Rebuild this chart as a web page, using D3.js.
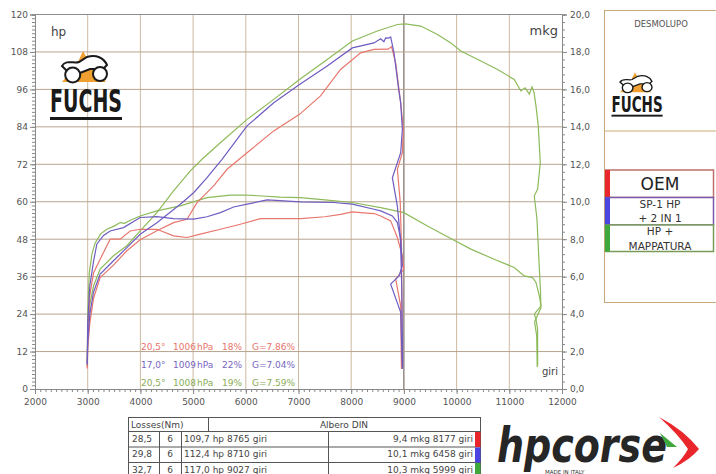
<!DOCTYPE html>
<html>
<head>
<meta charset="utf-8">
<script src="https://cdn.jsdelivr.net/npm/d3@7"></script>
<style>
  body { margin: 0; background: #fff; }
  svg { display: block; font-family: "DejaVu Sans", Verdana, sans-serif; }
</style>
</head>
<body>
<svg id="chart" width="716" height="474"></svg>
<script>
// dyno chart, values
var rpmTicks = [2000, 3000, 4000, 5000, 6000, 7000, 8000, 9000, 10000, 11000, 12000];
var hpTicks = [0, 12, 24, 36, 48, 60, 72, 84, 96, 108, 120];
var mkgTicks = [0, 2, 4, 6, 8, 10, 12, 14, 16, 18, 20];

var seriesNames = [["OEM"], ["SP-1 HP", "+ 2 IN 1"], ["HP +", "MAPPATURA"]];
var lineColors = ["#e8776d", "#6e5cc2", "#8dba5a"];
var swatchColors = ["#e8262c", "#4a44e0", "#3fa83c"];
var rowBorders = ["#c0706a", "#7a5aa8", "#7a9a5a"];

// [rpm, hp]
var oemPower = [[2992, 7], [3000, 13], [3040, 21], [3110, 29], [3236, 35.7], [3489, 39.7], [3743, 44.3],
  [3996, 47.8], [4313, 50.7], [4629, 53.3], [4884, 54.4], [5074, 59.7], [5390, 65.1], [5644, 70.4],
  [6024, 75.7], [6530, 82.7], [7019, 88], [7418, 93.9], [7798, 102.4], [8179, 107.7], [8432, 108.8],
  [8700, 108.9], [8765, 109.7], [8844, 104.5], [8939, 91.7], [8989, 83.2], [8971, 75.7], [8876, 70.4],
  [8930, 60], [8955, 45], [8962, 25], [8958, 7]];
var sp1Power = [[2992, 8], [3000, 15], [3040, 24], [3110, 31], [3236, 36.8], [3489, 41.1], [3743, 45.3],
  [3996, 49.6], [4313, 53.3], [4757, 59.2], [5010, 62.9], [5264, 67.7], [5549, 73.6], [6024, 84.3],
  [6530, 91.7], [7019, 97.6], [7545, 103.5], [8021, 109.3], [8432, 110.9], [8560, 112.2], [8620, 111.3],
  [8654, 112.5], [8710, 112.4], [8749, 112.8], [8812, 107.7], [8900, 96], [8939, 91.7], [8971, 83.2],
  [8939, 75.7], [8781, 67.7], [8876, 58.6], [8935, 48], [8960, 32], [8972, 15], [8975, 7]];
var hpPower = [[2992, 9], [3000, 17], [3040, 27], [3110, 33], [3236, 38.4], [3489, 42.7], [3743, 45.9],
  [3996, 50.7], [4313, 56.5], [4629, 63.5], [4947, 69.9], [5169, 73.6], [5517, 78.9], [6024, 86.4],
  [6530, 92.8], [7019, 99.2], [7545, 105.6], [8021, 111.5], [8496, 114.7], [8876, 116.8], [9027, 117.0],
  [9319, 116.3], [9637, 113.6], [9890, 110.9], [10080, 108.3], [10460, 105.1], [10777, 102.4],
  [11093, 99.2], [11220, 95.5], [11300, 96.5], [11380, 94.5], [11430, 96.8], [11470, 95], [11506, 90.7],
  [11550, 84.3], [11588, 72.5], [11537, 64], [11474, 61.9], [11525, 54.4], [11560, 42], [11590, 32],
  [11600, 26], [11480, 21.5], [11520, 17], [11530, 7]];

// [rpm, mkg]
var oemTorque = [[2992, 1.1], [3000, 3], [3040, 5], [3110, 6.2], [3236, 6.93], [3426, 8.0], [3616, 8.0],
  [3806, 8.44], [3996, 8.53], [4313, 8.53], [4629, 8.18], [4884, 8.09], [5137, 8.27], [5517, 8.53],
  [5897, 8.8], [6278, 9.1], [6658, 9.1], [7037, 9.1], [7500, 9.2], [7798, 9.33], [8021, 9.46],
  [8177, 9.42], [8432, 9.37], [8559, 9.24], [8749, 8.98], [8876, 8.09], [8971, 7.11], [9000, 6.4],
  [8844, 5.87], [8939, 4.44], [8953, 1.07]];
var sp1Torque = [[2992, 1.3], [3000, 3.5], [3040, 5.5], [3110, 6.8], [3173, 7.73], [3300, 8.2],
  [3426, 8.44], [3679, 8.62], [3996, 9.16], [4313, 9.21], [4629, 9.10], [5010, 9.07], [5264, 9.2],
  [5517, 9.42], [5770, 9.72], [6024, 9.87], [6405, 10.1], [7037, 9.99], [7671, 9.96], [8021, 9.87],
  [8432, 9.6], [8559, 9.51], [8781, 9.24], [8876, 8.89], [8939, 8.0], [8971, 6.58], [8907, 6.04],
  [8749, 5.6], [8939, 4.09], [8971, 1.07]];
var hpTorque = [[2992, 1.2], [3000, 4], [3030, 6.2], [3080, 7.2], [3141, 7.8], [3250, 8.3], [3363, 8.53],
  [3500, 8.7], [3616, 8.89], [3700, 8.85], [3800, 9.0], [3996, 9.24], [4313, 9.51], [4757, 9.78],
  [5264, 10.22], [5707, 10.35], [6000, 10.36], [6658, 10.25], [7037, 10.22], [7500, 10.1],
  [8021, 9.96], [8559, 9.69], [9000, 9.42], [9446, 8.71], [9890, 8.04], [10270, 7.47], [10713, 6.93],
  [11093, 6.49], [11283, 6.04], [11442, 5.95], [11506, 5.69], [11569, 4.98], [11601, 4.44],
  [11474, 4.0], [11506, 3.73], [11537, 3.2], [11537, 1.24]];

var weather = [["20,5°", "1006", "hPa", "18%", "G=7.86%"],
               ["17,0°", "1009", "hPa", "22%", "G=7.04%"],
               ["20,5°", "1008", "hPa", "19%", "G=7.59%"]];

var lossesNm = ["28,5", "29,8", "32,7"];
var lossesCol2 = ["6", "6", "6"];
var peakPower = ["109,7 hp 8765 giri", "112,4 hp 8710 giri", "117,0 hp 9027 giri"];
var peakTorque = ["9,4 mkg 8177 giri", "10,1 mkg 6458 giri", "10,3 mkg 5999 giri"];

var svg = d3.select("#chart");

var x = d3.scaleLinear().domain([2000, 12000]).range([35, 562]);
var yHp = d3.scaleLinear().domain([0, 120]).range([389, 14.5]);
var yMkg = d3.scaleLinear().domain([0, 20]).range([389, 14.5]);

// grid
var grid = svg.append("g");
grid.selectAll(".vg").data(rpmTicks.slice(1, -1)).enter().append("line")
  .attr("x1", function (d) { return x(d); })
  .attr("x2", function (d) { return x(d); })
  .attr("y1", yHp(120)).attr("y2", yHp(0))
  .attr("stroke", function (d) { return d == 9000 ? "#5e5048" : "#cdb9a0"; })
  .attr("stroke-width", 1);
grid.selectAll(".hg").data(hpTicks.slice(1, -1)).enter().append("line")
  .attr("x1", x(2000)).attr("x2", x(12000))
  .attr("y1", function (d) { return yHp(d); })
  .attr("y2", function (d) { return yHp(d); })
  .attr("stroke", "#b8a48e")
  .attr("stroke-width", 1);
grid.append("line")
  .attr("x1", x(2000)).attr("x2", x(12000))
  .attr("y1", yHp(120)).attr("y2", yHp(120))
  .attr("stroke", "#8c8c8c");

function styleAxis(g) {
  g.attr("font-family", "DejaVu Sans, Verdana, sans-serif").attr("font-size", 9);
  g.selectAll("text").attr("fill", "#555");
  g.selectAll("line").attr("stroke", "#888");
  g.select(".domain").attr("stroke", "#888");
}

// axes, major + minor ticks
var leftMinor = svg.append("g").attr("transform", "translate(" + x(2000) + ",0)")
  .call(d3.axisLeft(yHp).tickValues(d3.range(0, 120.1, 1.2)).tickSize(3).tickFormat(""));
styleAxis(leftMinor);
var leftAxis = svg.append("g").attr("transform", "translate(" + x(2000) + ",0)")
  .call(d3.axisLeft(yHp).tickValues(hpTicks).tickSize(5).tickPadding(2));
styleAxis(leftAxis);

var rightMinor = svg.append("g").attr("transform", "translate(" + x(12000) + ",0)")
  .call(d3.axisRight(yMkg).tickValues(d3.range(0, 20.01, 0.4)).tickSize(3).tickFormat(""));
styleAxis(rightMinor);
var rightAxis = svg.append("g").attr("transform", "translate(" + x(12000) + ",0)")
  .call(d3.axisRight(yMkg).tickValues(mkgTicks).tickSize(5).tickPadding(3)
    .tickFormat(function (d) { return d3.format(".1f")(d).replace(".", ","); }));
styleAxis(rightAxis);

var bottomMinor = svg.append("g").attr("transform", "translate(0," + yHp(0) + ")")
  .call(d3.axisBottom(x).tickValues(d3.range(2000, 12001, 100)).tickSize(3).tickFormat(""));
styleAxis(bottomMinor);
var bottomAxis = svg.append("g").attr("transform", "translate(0," + yHp(0) + ")")
  .call(d3.axisBottom(x).tickValues(rpmTicks).tickSize(5).tickPadding(5).tickFormat(d3.format("d")));
styleAxis(bottomAxis);

svg.append("text").attr("x", 51).attr("y", 36).attr("font-size", 12).attr("fill", "#444").text("hp");
svg.append("text").attr("x", 558).attr("y", 35).attr("text-anchor", "end").attr("font-size", 13)
  .attr("fill", "#444").text("mkg");
svg.append("text").attr("x", 558).attr("y", 375).attr("text-anchor", "end").attr("font-size", 10)
  .attr("fill", "#444").text("giri");

// curves
var powerLine = d3.line()
  .x(function (d) { return x(d[0]); })
  .y(function (d) { return yHp(d[1]); });
var torqueLine = d3.line()
  .x(function (d) { return x(d[0]); })
  .y(function (d) { return yMkg(d[1]); });

var powers = [oemPower, sp1Power, hpPower];
var torques = [oemTorque, sp1Torque, hpTorque];
var curves = svg.append("g").attr("fill", "none").attr("stroke-width", 1.2);
[2, 0, 1].forEach(function (i) {
  curves.append("path").attr("d", torqueLine(torques[i])).attr("stroke", lineColors[i]);
  curves.append("path").attr("d", powerLine(powers[i])).attr("stroke", lineColors[i]);
});

// weather notes
var noteX = [141, 173, 197, 222, 252];
var noteColors = ["#e8746a", "#7766c0", "#8aac55"];
weather.forEach(function (row, i) {
  svg.selectAll(".note" + i).data(row).enter().append("text")
    .attr("x", function (d, j) { return noteX[j]; })
    .attr("y", 350 + i * 18)
    .attr("font-size", 9)
    .attr("fill", noteColors[i])
    .text(function (d) { return d; });
});

// FUCHS logo
function fuchs(tx, ty, sx, sy) {
  var g = svg.append("g").attr("transform", "translate(" + tx + "," + ty + ") scale(" + sx + "," + sy + ")");
  g.append("path").attr("d", "M12,-30 L28,-50 L33,-61 L39,-50 L56,-30 Z").attr("fill", "#f0a030");
  g.append("path")
    .attr("d", "M12,-46 C16,-53 24,-48 29,-50 L37,-55 C46,-58 54,-54 57,-47 L53,-43 L40,-43 L30,-39 L18,-40 Z")
    .attr("fill", "#fff").attr("stroke", "#1a1a1a").attr("stroke-width", 2);
  g.append("circle").attr("cx", 22.7).attr("cy", -37).attr("r", 7.5)
    .attr("fill", "#fff").attr("stroke", "#1a1a1a").attr("stroke-width", 2);
  g.append("circle").attr("cx", 50).attr("cy", -38).attr("r", 7)
    .attr("fill", "#fff").attr("stroke", "#1a1a1a").attr("stroke-width", 2);
  g.append("text").attr("x", 0).attr("y", 0).attr("font-size", 32).attr("font-weight", "bold")
    .attr("textLength", 72).attr("lengthAdjust", "spacingAndGlyphs").attr("fill", "#1a1a1a").text("FUCHS");
  g.append("rect").attr("x", 0).attr("y", 5).attr("width", 72).attr("height", 3).attr("fill", "#1a1a1a");
}
fuchs(50, 112, 1, 1);
fuchs(611.5, 111.5, 0.71, 0.64);

// right panel
svg.append("rect").attr("x", 604.5).attr("y", 10.5).attr("width", 130).attr("height", 292)
  .attr("fill", "none").attr("stroke", "#c8aa7a");
svg.append("line").attr("x1", 604.5).attr("x2", 716).attr("y1", 131).attr("y2", 131).attr("stroke", "#c8aa7a");
svg.append("text").attr("x", 661).attr("y", 26.5).attr("text-anchor", "middle").attr("font-size", 8.5)
  .attr("fill", "#555").text("DESMOLUPO");

var rowTop = [170, 197.5, 225];
var rowH = [27.5, 27.5, 26.5];
seriesNames.forEach(function (lines, i) {
  var g = svg.append("g");
  g.append("rect").attr("x", 605.5).attr("y", rowTop[i]).attr("width", 108).attr("height", rowH[i])
    .attr("fill", "#fff").attr("stroke", rowBorders[i]).attr("stroke-width", 1.5);
  g.append("rect").attr("x", 605).attr("y", rowTop[i]).attr("width", 5).attr("height", rowH[i])
    .attr("fill", swatchColors[i]);
  if (lines.length == 1) {
    g.append("text").attr("x", 660).attr("y", rowTop[i] + 19.5).attr("text-anchor", "middle")
      .attr("font-size", 17).attr("fill", "#222").text(lines[0]);
  } else {
    lines.forEach(function (t, k) {
      g.append("text").attr("x", 660).attr("y", rowTop[i] + 10 + k * 14.5).attr("text-anchor", "middle")
        .attr("font-size", 10.5).attr("fill", "#333").text(t);
    });
  }
});

// table
var tb = svg.append("g").attr("font-size", 9).attr("fill", "#444");
var tx0 = 128.5, tx4 = 480.5, ty0 = 417.5, ty1 = 431.5;
var rowY = [431.5, 447, 462.5, 478];
tb.append("rect").attr("x", tx0).attr("y", ty0).attr("width", tx4 - tx0).attr("height", 62)
  .attr("fill", "#fff").attr("stroke", "#555");
tb.append("line").attr("x1", 208.5).attr("x2", 208.5).attr("y1", ty0).attr("y2", ty1).attr("stroke", "#555");
rowY.forEach(function (yy) {
  tb.append("line").attr("x1", tx0).attr("x2", tx4).attr("y1", yy).attr("y2", yy).attr("stroke", "#555");
});
[159.5, 181.5, 328.5].forEach(function (xx) {
  tb.append("line").attr("x1", xx).attr("x2", xx).attr("y1", ty1).attr("y2", 478).attr("stroke", "#555");
});
tb.append("text").attr("x", 131).attr("y", 428).text("Losses(Nm)");
tb.append("text").attr("x", 344).attr("y", 428).attr("text-anchor", "middle").text("Albero DIN");
lossesNm.forEach(function (v, i) {
  var yy = rowY[i] + 10;
  tb.append("text").attr("x", 132).attr("y", yy).text(v);
  tb.append("text").attr("x", 170).attr("y", yy).attr("text-anchor", "middle").text(lossesCol2[i]);
  tb.append("text").attr("x", 184).attr("y", yy).text(peakPower[i]);
  tb.append("text").attr("x", 473).attr("y", yy).attr("text-anchor", "end").text(peakTorque[i]);
  tb.append("rect").attr("x", 475).attr("y", rowY[i] + 0.5).attr("width", 5.5).attr("height", 15)
    .attr("fill", swatchColors[i]);
});

// hpcorse logo
var logo = svg.append("g");
logo.append("text").attr("x", 497).attr("y", 462).attr("font-size", 48).attr("font-weight", "bold")
  .attr("font-style", "italic").attr("textLength", 170).attr("lengthAdjust", "spacingAndGlyphs")
  .attr("fill", "#262626").text("hpcorse");
logo.append("path").attr("d", "M659,417 Q684,430 699,449 Q690,460 673,468 Q684,457 688,449 Q678,434 659,417 Z")
  .attr("fill", "#e8262c");
logo.append("path").attr("d", "M660,433 L677,447 L667,447 Z").attr("fill", "#3fa83c");
logo.append("text").attr("x", 545).attr("y", 473.5).attr("font-size", 5.5).attr("fill", "#333").text("MADE IN ITALY");
</script>
</body>
</html>
